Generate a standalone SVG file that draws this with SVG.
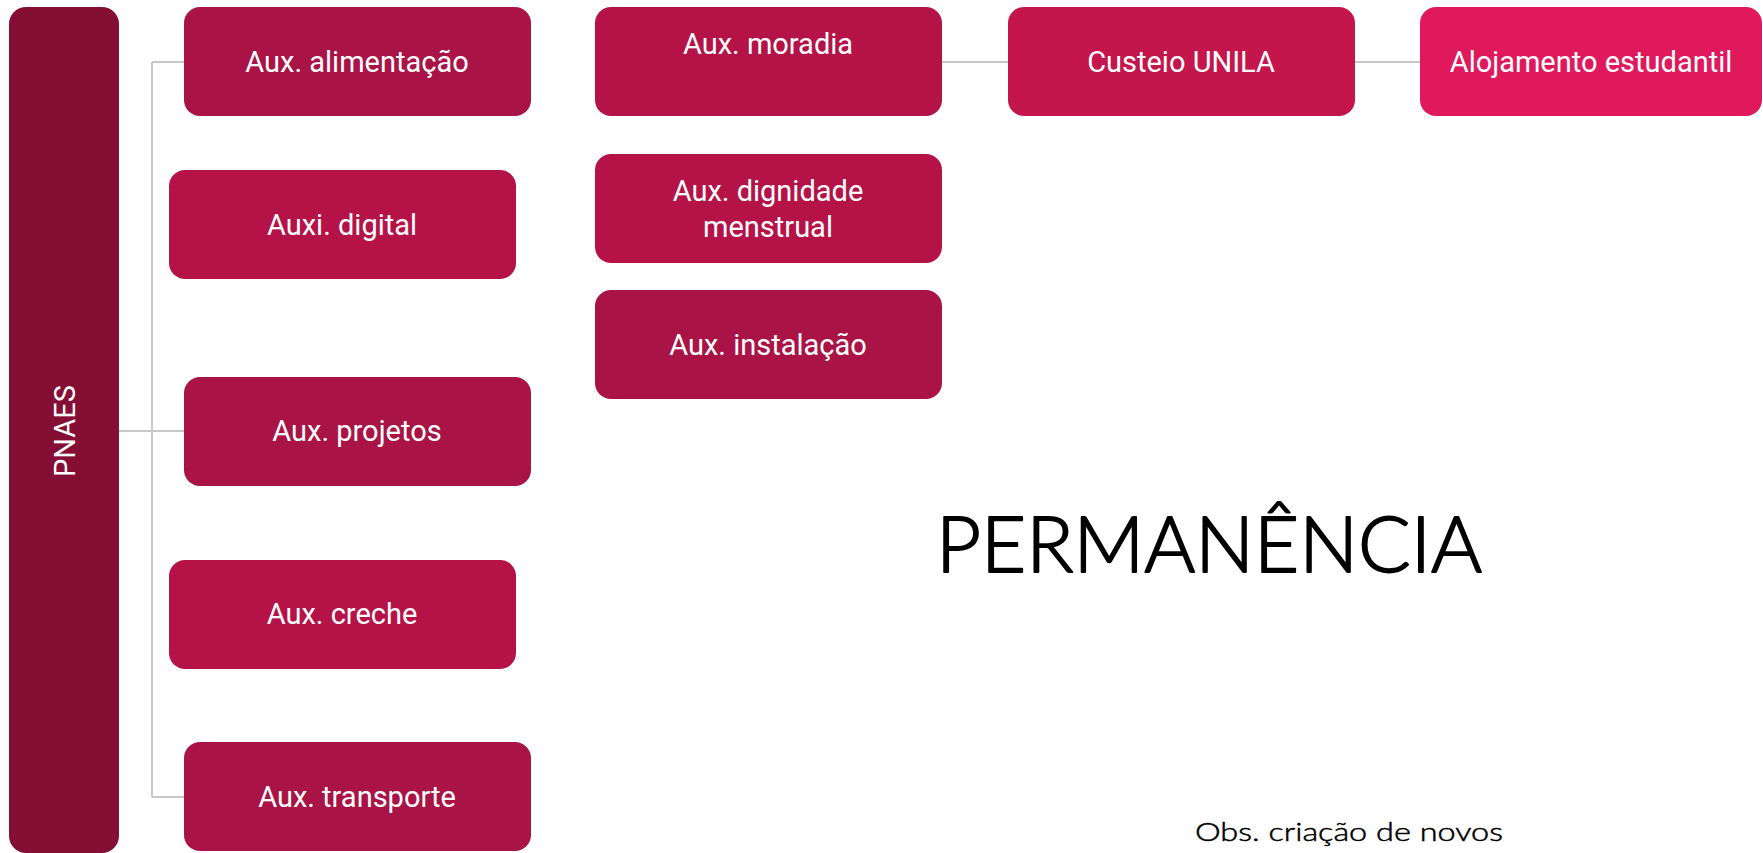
<svg xmlns="http://www.w3.org/2000/svg" width="1763" height="853" viewBox="0 0 1763 853">
  <style>
    .box { stroke: none; }
    .c1 { fill: #aa1345; }
    .c2 { fill: #b51348; }
    .lbl { font-family: Roboto, "Liberation Sans", sans-serif; font-size: 29px; fill: #ffffff; text-anchor: middle; }
    .conn { fill: none; stroke: #c8c8c8; stroke-width: 2; }
    .note { font-family: Lato, "Noto Sans", sans-serif; font-weight: 300; fill: #000000; stroke: #000000; stroke-linejoin: round; stroke-linecap: round; }
  </style>
  <rect width="1763" height="853" fill="#ffffff"/>
  <g id="connectors">
    <path class="conn" d="M119,431 H152 M152,62 V797 M152,62 H184 M152,431 H184 M152,797 H184"/>
    <path class="conn" d="M942,62 H1008"/>
    <path class="conn" d="M1355,62 H1420"/>
  </g>
  <g id="pnaes">
    <rect class="box" x="9" y="7" width="110" height="846" rx="17" fill="#850e35"/>
    <text class="lbl" transform="translate(75,431) rotate(-90)" font-size="30">PNAES</text>
  </g>
  <g id="aux-alimentacao">
    <rect class="box c1" x="184" y="7" width="347" height="109" rx="16"/>
    <text class="lbl" x="357" y="72">Aux. alimentação</text>
  </g>
  <g id="auxi-digital">
    <rect class="box c2" x="169" y="170" width="347" height="109" rx="16"/>
    <text class="lbl" x="342" y="235">Auxi. digital</text>
  </g>
  <g id="aux-projetos">
    <rect class="box c1" x="184" y="377" width="347" height="109" rx="16"/>
    <text class="lbl" x="357" y="441">Aux. projetos</text>
  </g>
  <g id="aux-creche">
    <rect class="box c2" x="169" y="560" width="347" height="109" rx="16"/>
    <text class="lbl" x="342" y="624">Aux. creche</text>
  </g>
  <g id="aux-transporte">
    <rect class="box c1" x="184" y="742" width="347" height="109" rx="16"/>
    <text class="lbl" x="357" y="807">Aux. transporte</text>
  </g>
  <g id="aux-moradia">
    <rect class="box c2" x="595" y="7" width="347" height="109" rx="16"/>
    <text class="lbl" x="768" y="54">Aux. moradia</text>
  </g>
  <g id="aux-dignidade">
    <rect class="box c2" x="595" y="154" width="347" height="109" rx="16"/>
    <text class="lbl" x="768" y="201">Aux. dignidade</text>
    <text class="lbl" x="768" y="237">menstrual</text>
  </g>
  <g id="aux-instalacao">
    <rect class="box c1" x="595" y="290" width="347" height="109" rx="16"/>
    <text class="lbl" x="768" y="355">Aux. instalação</text>
  </g>
  <g id="custeio-unila">
    <rect class="box" x="1008" y="7" width="347" height="109" rx="16" fill="#c4154d"/>
    <text class="lbl" x="1181" y="72">Custeio UNILA</text>
  </g>
  <g id="alojamento">
    <rect class="box" x="1420" y="7" width="342" height="109" rx="16" fill="#e0185c"/>
    <text class="lbl" x="1591" y="72">Alojamento estudantil</text>
  </g>
  <text class="note" x="936" y="572" font-size="77" stroke-width="1.8" textLength="546" lengthAdjust="spacingAndGlyphs">PERMANÊNCIA</text>
  <text class="note" x="1195" y="841" font-size="26" stroke-width="0.5" textLength="308" lengthAdjust="spacingAndGlyphs">Obs. criação de novos</text>
</svg>
